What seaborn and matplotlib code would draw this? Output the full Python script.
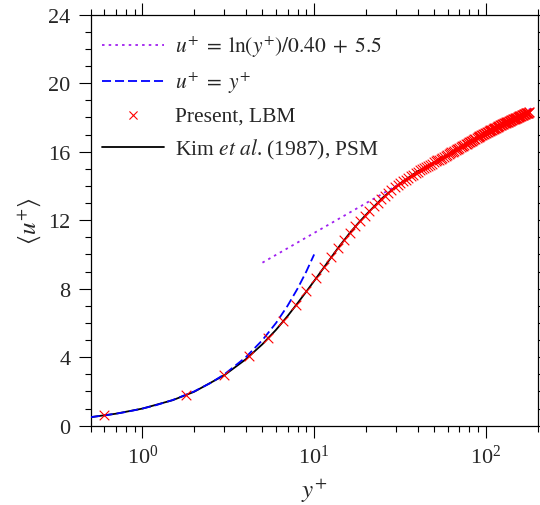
import matplotlib
matplotlib.use("Agg")
import matplotlib.pyplot as plt
import matplotlib.ticker as mticker
import seaborn as sns
import pandas as pd

# ---- data ----
# log law u+ = ln(y+)/0.40 + 5.5 (straight line on semilog axes: two end points)
loglaw_y = [5.0, 190.0]
loglaw_u = [9.52, 18.62]

# viscous sublayer u+ = y+
visc_y = [0.5, 0.6, 0.7, 0.8, 1.0, 1.2, 1.5, 2.0, 2.5, 3.0, 4.0, 5.0, 6.0, 7.0, 8.0, 9.0, 10.0]
visc_u = [0.5, 0.6, 0.7, 0.8, 1.0, 1.2, 1.5, 2.0, 2.5, 3.0, 4.0, 5.0, 6.0, 7.0, 8.0, 9.0, 10.0]

# Kim et al. (1987), PSM
kim_y = [0.5, 0.7, 1.0, 1.5, 2.0, 3.0, 4.0, 5.0, 6.0, 7.0, 8.0, 9.0, 10.0, 12.0, 14.0,
         16.0, 18.0, 20.0, 25.0, 30.0, 40.0, 50.0, 60.0, 80.0, 100.0, 120.0, 140.0, 160.0, 178.0]
kim_u = [0.50, 0.70, 1.00, 1.49, 1.98, 2.95, 3.88, 4.76, 5.60, 6.40, 7.15, 7.83, 8.45, 9.55, 10.47,
         11.21, 11.81, 12.31, 13.30, 13.98, 14.85, 15.38, 15.84, 16.59, 17.11, 17.52, 17.85, 18.12, 18.29]

# Present, LBM
lbm_y = [0.6, 1.8, 3.0, 4.2, 5.4, 6.6, 7.8, 9.0, 10.2, 11.4,
         12.6, 13.8, 15.0, 16.2, 17.4, 18.6, 19.8, 21.0, 22.2, 23.4,
         24.6, 25.8, 27.0, 28.2, 29.4, 30.6, 31.8, 33.0, 34.2, 35.4,
         36.6, 37.8, 39.0, 40.2, 41.4, 42.6, 43.8, 45.0, 46.2, 47.4,
         48.6, 49.8, 51.0, 52.2, 53.4, 54.6, 55.8, 57.0, 58.2, 59.4,
         60.6, 61.8, 63.0, 64.2, 65.4, 66.6, 67.8, 69.0, 70.2, 71.4,
         72.6, 73.8, 75.0, 76.2, 77.4, 78.6, 79.8, 81.0, 82.2, 83.4,
         84.6, 85.8, 87.0, 88.2, 89.4, 90.6, 91.8, 93.0, 94.2, 95.4,
         96.6, 97.8, 99.0, 100.2, 101.4, 102.6, 103.8, 105.0, 106.2, 107.4,
         108.6, 109.8, 111.0, 112.2, 113.4, 114.6, 115.8, 117.0, 118.2, 119.4,
         120.6, 121.8, 123.0, 124.2, 125.4, 126.6, 127.8, 129.0, 130.2, 131.4,
         132.6, 133.8, 135.0, 136.2, 137.4, 138.6, 139.8, 141.0, 142.2, 143.4,
         144.6, 145.8, 147.0, 148.2, 149.4, 150.6, 151.8, 153.0, 154.2, 155.4,
         156.6, 157.8, 159.0, 160.2, 161.4, 162.6, 163.8, 165.0, 166.2, 167.4,
         168.6, 169.8, 171.0, 172.2, 173.4, 174.6, 175.8, 177.0, 178.2, 179.4]
lbm_u = [0.60, 1.79, 2.96, 4.07, 5.10, 6.10, 7.02, 7.85, 8.60, 9.28,
         9.88, 10.40, 10.86, 11.27, 11.64, 11.97, 12.27, 12.55, 12.80, 13.03,
         13.24, 13.43, 13.61, 13.77, 13.91, 14.04, 14.16, 14.27, 14.37, 14.47,
         14.56, 14.65, 14.74, 14.83, 14.91, 14.98, 15.05, 15.12, 15.18, 15.25,
         15.31, 15.37, 15.43, 15.49, 15.54, 15.60, 15.65, 15.71, 15.76, 15.81,
         15.86, 15.91, 15.96, 16.00, 16.05, 16.09, 16.14, 16.18, 16.22, 16.27,
         16.31, 16.35, 16.39, 16.43, 16.47, 16.51, 16.54, 16.58, 16.62, 16.65,
         16.69, 16.72, 16.76, 16.79, 16.83, 16.86, 16.89, 16.92, 16.96, 16.99,
         17.02, 17.05, 17.08, 17.11, 17.14, 17.16, 17.19, 17.21, 17.24, 17.26,
         17.29, 17.32, 17.34, 17.36, 17.39, 17.41, 17.44, 17.46, 17.48, 17.50,
         17.53, 17.55, 17.57, 17.59, 17.61, 17.63, 17.65, 17.67, 17.69, 17.71,
         17.72, 17.74, 17.76, 17.78, 17.79, 17.81, 17.83, 17.85, 17.86, 17.88,
         17.90, 17.91, 17.93, 17.94, 17.96, 17.97, 17.99, 18.00, 18.02, 18.04,
         18.06, 18.08, 18.09, 18.11, 18.13, 18.14, 18.16, 18.17, 18.19, 18.20,
         18.21, 18.23, 18.24, 18.25, 18.26, 18.27, 18.28, 18.28, 18.29, 18.29]

labels = [r'$u^{+}\;=\;\ln(y^{+})/0.40\;+\;5.5$',
          r'$u^{+}\;=\;y^{+}$',
          'Present, LBM',
          r'Kim $\mathit{et\ al}$. (1987), PSM']

# ---- style ----
sns.set_theme(style="ticks")
plt.rcParams['font.family'] = ['Liberation Serif', 'DejaVu Serif']
plt.rcParams['mathtext.fontset'] = 'stix'
plt.rcParams['axes.linewidth'] = 0.9

fig = plt.figure(figsize=(5.4, 5.06), dpi=100)
ax = fig.add_axes([0.168, 0.1567, 0.8275, 0.8123])

df_kim = pd.DataFrame({'y': kim_y, 'u': kim_u})
df_visc = pd.DataFrame({'y': visc_y, 'u': visc_u})
df_log = pd.DataFrame({'y': loglaw_y, 'u': loglaw_u})
df_lbm = pd.DataFrame({'y': lbm_y, 'u': lbm_u})

sns.lineplot(data=df_kim, x='y', y='u', ax=ax, color='black', lw=1.3,
             sort=False, estimator=None, label=labels[3], zorder=2)
sns.lineplot(data=df_visc, x='y', y='u', ax=ax, color='#0000ff', lw=1.3,
             sort=False, estimator=None, label=labels[1], zorder=3)
ax.lines[-1].set_dashes([5, 2.2])
sns.lineplot(data=df_log, x='y', y='u', ax=ax, color='#a020f0', lw=1.3,
             sort=False, estimator=None, label=labels[0], zorder=3)
ax.lines[-1].set_dashes([1.4, 2.3])
sns.scatterplot(data=df_lbm, x='y', y='u', ax=ax, marker='x', color='#ff0000',
                s=48, linewidth=0.8, label=labels[2], zorder=4)

ax.set_xscale('log')
ax.set_xlim(0.5, 200)
ax.set_ylim(0, 24)
ax.yaxis.set_major_locator(mticker.MultipleLocator(4))
ax.yaxis.set_minor_locator(mticker.MultipleLocator(1))
ax.xaxis.set_major_locator(mticker.LogLocator(base=10))
ax.xaxis.set_minor_locator(mticker.LogLocator(base=10, subs=range(2, 10)))
ax.xaxis.set_minor_formatter(mticker.NullFormatter())

ax.tick_params(which='both', direction='out', top=True, right=True,
               labelsize=16, width=0.8, color='black')
ax.tick_params(which='major', length=8.5, pad=5)
ax.tick_params(which='minor', length=4)
ax.tick_params(axis='y', which='major', pad=6)
for s in ax.spines.values():
    s.set_visible(True)
    s.set_color('black')

ax.set_xlabel(r'$y^{+}$', fontsize=18, labelpad=6)
ax.set_ylabel(r'$\langle u^{+} \rangle$', fontsize=18, labelpad=4)

handles, labs = ax.get_legend_handles_labels()
order = [labs.index(l) for l in labels]
leg = ax.legend([handles[i] for i in order], [labs[i] for i in order],
                loc='upper left', frameon=False, fontsize=15.5,
                handlelength=2.9, handletextpad=0.5, labelspacing=0.49,
                borderaxespad=0.5, bbox_to_anchor=(-0.018, 1.0))
for h in leg.legend_handles:
    if hasattr(h, 'set_sizes'):
        h.set_sizes([34])

fig.savefig('out.png', dpi=100)
